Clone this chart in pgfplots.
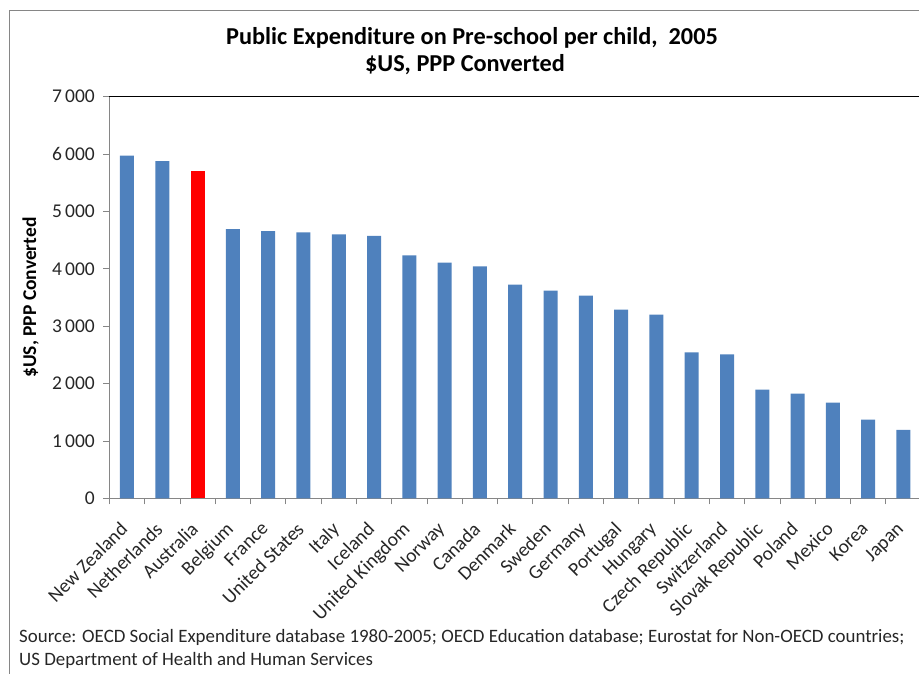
\documentclass[border=0pt]{standalone}
\usepackage{pgfplots}
\pgfplotsset{compat=1.18}
\usepackage{fontspec}
\setmainfont{Carlito}
\definecolor{barblue}{HTML}{4F81BD}
\definecolor{axisgray}{HTML}{868686}
\definecolor{txt}{HTML}{262626}

% values, $US PPP per child, 2005
\pgfplotstableread{
x  val
0  5975
1  5875
3  4690
4  4655
5  4637
6  4602
7  4573
8  4236
9  4108
10 4044
11 3725
12 3620
13 3533
14 3289
15 3202
16 2545
17 2510
18 1894
19 1825
20 1668
21 1371
22 1191
}\others
\pgfplotstableread{
x  val
2  5700
}\australia

\begin{document}
\begin{tikzpicture}[x=1pt,y=1pt]
\useasboundingbox (0,0) rectangle (919,673);
% chart frame
\draw[axisgray, line width=0.8pt] (9,-5) -- (9,663) -- (930,663);
% title
\node[font=\bfseries\fontsize{24.3}{27}\selectfont, text=black] at (472,635) {Public Expenditure on Pre-school per child,\ \ 2005};
\node[font=\bfseries\fontsize{24.3}{27}\selectfont, text=black] at (465,608) {\$US, PPP Converted};

\begin{axis}[
  at={(109.35pt,174.7pt)}, anchor=south west,
  scale only axis, width=809.65pt, height=401.6pt,
  xmin=-0.5, xmax=22.44, ymin=0, ymax=7000,
  ybar, bar width=14pt, bar shift=0pt,
  axis lines*=left,
  axis line style={axisgray, line width=0.8pt, -},
  xtick={0,...,22},
  xticklabels={New Zealand,Netherlands,Australia,Belgium,France,United States,Italy,Iceland,United Kingdom,Norway,Canada,Denmark,Sweden,Germany,Portugal,Hungary,Czech Republic,Switzerland,Slovak Republic,Poland,Mexico,Korea,Japan},
  major x tick style={draw=none},
  minor xtick={-0.5,0.5,...,21.5},
  minor x tick style={axisgray, line width=0.8pt},
  minor tick length=6pt,
  ytick={0,1000,...,7000},
  major y tick style={axisgray, line width=0.8pt},
  major tick length=6pt,
  tick align=outside,
  tick pos=left,
  /pgf/number format/assume math mode=true,
  /pgf/number format/1000 sep={\,},
  yticklabel style={font=\fontsize{19.5}{22}\selectfont, text=txt, xshift=-5pt},
  xticklabel style={font=\fontsize{19.5}{22}\selectfont, text=txt, xshift=-8pt, yshift=-16.5pt, rotate=45, anchor=north east, inner sep=0pt},
  ylabel={\$US, PPP Converted},
  every axis y label/.style={at={(axis description cs:-0.0973,0.5)}, rotate=90, anchor=center, font=\bfseries\fontsize{19.5}{22}\selectfont, text=black},
  clip=false,
]
\addplot[fill=barblue, draw=none] table[x=x, y=val] {\others};
\addplot[fill=red, draw=none] table[x=x, y=val] {\australia};
\draw[black, line width=0.8pt] (rel axis cs:0,1) -- (rel axis cs:1,1);
\end{axis}

% source note
\node[anchor=base west, font=\fontsize{18.9}{22}\selectfont, text=txt, inner sep=0pt] at (19,31) {Source: OECD Social Expenditure database 1980-2005; OECD Education database; Eurostat for Non-OECD countries;};
\node[anchor=base west, font=\fontsize{18.9}{22}\selectfont, text=txt, inner sep=0pt] at (19,8) {US Department of Health and Human Services};
\end{tikzpicture}
\end{document}
